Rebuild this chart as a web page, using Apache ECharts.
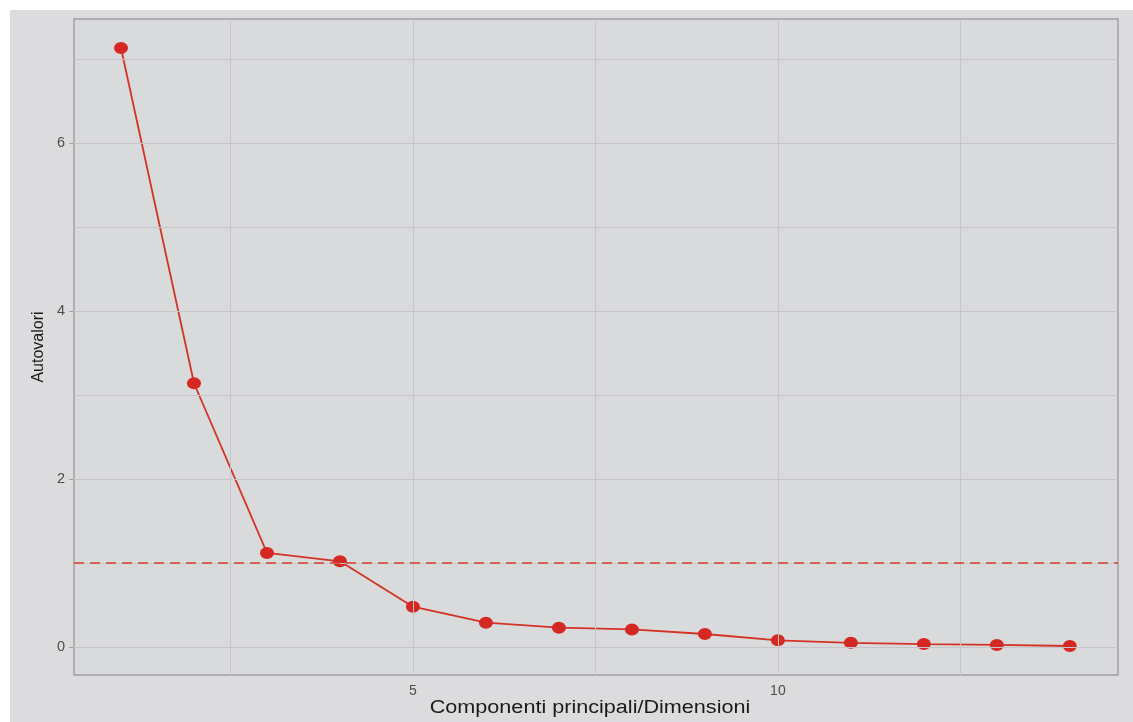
<!DOCTYPE html>
<html>
<head>
<meta charset="utf-8">
<script src="https://cdn.jsdelivr.net/npm/echarts@6/dist/echarts.min.js"></script>
<style>
html,body{margin:0;padding:0;background:#ffffff;}
#chart{width:1133px;height:722px;}
</style>
</head>
<body>
<div id="chart"></div>
<script>
// Data
const components = [1, 2, 3, 4, 5, 6, 7, 8, 9, 10, 11, 12, 13, 14];
const eigenvalues = [7.13, 3.14, 1.12, 1.02, 0.48, 0.29, 0.23, 0.21, 0.155, 0.08, 0.05, 0.035, 0.025, 0.012];
const threshold = 1;
const xTickLabels = [5, 10];
const yTickLabels = [0, 2, 4, 6];
const xGridLines = [2.5, 5, 7.5, 10, 12.5];
const yGridLines = [0, 1, 2, 3, 4, 5, 6, 7];
const xTitle = 'Componenti principali/Dimensioni';
const yTitle = 'Autovalori';

const seriesData = components.map((c, i) => [c, eigenvalues[i]]);

const chart = echarts.init(document.getElementById('chart'), null, {renderer: 'canvas'});
const font = '"Liberation Sans", Arial, Helvetica, sans-serif';
const gridColor = '#c6c6c8';

chart.setOption({
  backgroundColor: '#dcdcde',
  animation: false,
  graphic: [
    {type: 'rect', left: 0, top: 0, shape: {width: 1133, height: 10}, style: {fill: '#ffffff'}, silent: true},
    {type: 'rect', left: 0, top: 0, shape: {width: 10, height: 722}, style: {fill: '#ffffff'}, silent: true},
    {type: 'text', x: 590, y: 708, scaleX: 1.2, silent: true,
     style: {text: xTitle, font: '18px ' + font, fill: '#1a1a1a', align: 'center', verticalAlign: 'middle'}}
  ],
  grid: {
    left: 74, top: 19, right: 15, bottom: 47,
    show: true, backgroundColor: '#d9dadc', borderColor: '#a0a0a2', borderWidth: 1.5
  },
  xAxis: {
    type: 'value', min: 0.356, max: 14.66,
    axisLine: {show: false},
    axisTick: {show: true, customValues: xTickLabels, length: 5, lineStyle: {color: '#a3a3a5'}},
    axisLabel: {customValues: xTickLabels, fontFamily: font, fontSize: 14, color: '#4d4d4d', margin: 9},
    splitLine: {show: false}
  },
  yAxis: {
    type: 'value', min: -0.333, max: 7.476,
    name: yTitle,
    nameLocation: 'middle', nameGap: 27, nameMoveOverlap: false,
    nameTextStyle: {fontFamily: font, fontSize: 16, color: '#1a1a1a'},
    axisLine: {show: false},
    axisTick: {show: true, customValues: yTickLabels, length: 5, lineStyle: {color: '#a3a3a5'}},
    axisLabel: {customValues: yTickLabels, fontFamily: font, fontSize: 14.5, color: '#4d4d4d', margin: 9},
    splitLine: {show: false}
  },
  series: [
    {
      type: 'line', data: seriesData, symbol: 'none', silent: true, z: 1,
      lineStyle: {opacity: 0},
      markLine: {
        silent: true, symbol: 'none', animation: false,
        label: {show: false},
        lineStyle: {color: gridColor, width: 1, type: 'solid'},
        data: xGridLines.map(v => ({xAxis: v})).concat(yGridLines.map(v => ({yAxis: v})))
      }
    },
    {
      type: 'line', data: seriesData, z: 3,
      symbol: 'circle', symbolSize: [14, 12],
      itemStyle: {color: '#d62822'},
      lineStyle: {color: '#d33324', width: 1.8},
      markLine: {
        silent: true, symbol: 'none', animation: false,
        label: {show: false},
        lineStyle: {color: '#cf3e2c', width: 1.5, type: [10, 6]},
        data: [{yAxis: threshold}]
      }
    }
  ]
});
</script>
</body>
</html>
